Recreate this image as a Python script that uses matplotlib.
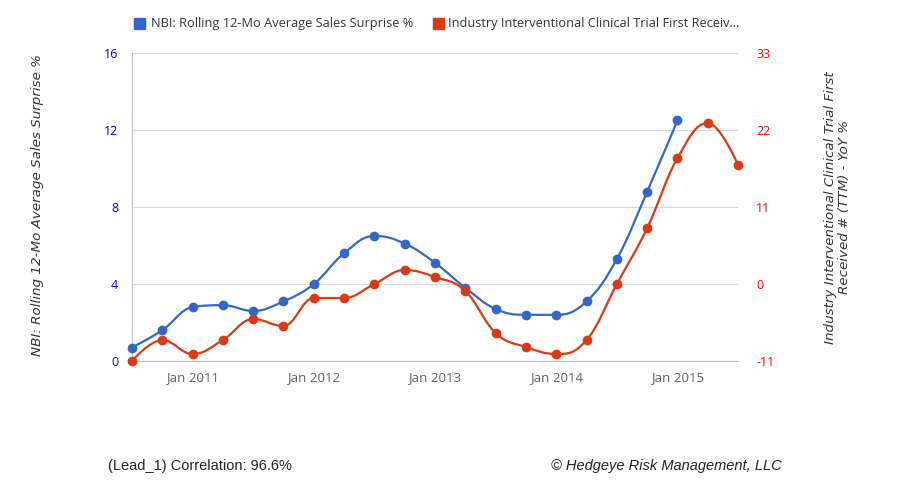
import numpy as np
import matplotlib
matplotlib.use("Agg")
import matplotlib.pyplot as plt
from matplotlib.path import Path
from matplotlib.patches import PathPatch, Rectangle

# quarterly observations, first one in Jul 2010
nbi_sales_surprise = [0.7, 1.6, 2.8, 2.9, 2.6, 3.1, 4.0, 5.6, 6.5, 6.1, 5.1, 3.8,
                      2.7, 2.4, 2.4, 3.1, 5.3, 8.8, 12.5]
clinical_trial_yoy = [-11, -8, -10, -8, -5, -6, -2, -2, 0, 2, 1, -1,
                      -7, -9, -10, -8, 0, 8, 18, 23, 17]
year_labels = ["Jan 2011", "Jan 2012", "Jan 2013", "Jan 2014", "Jan 2015"]
year_pos = [2, 6, 10, 14, 18]

BLUE = "#3366CC"
RED = "#DC3912"
plt.rcParams['font.family'] = ['Open Sans', 'DejaVu Sans']
plt.rcParams['axes.unicode_minus'] = False


def spline_path(x, y, smoothing=1.5):
    """Highcharts-like spline through the points, as a bezier Path."""
    n = len(x)
    left = [(x[i], y[i]) for i in range(n)]
    right = [(x[i], y[i]) for i in range(n)]
    d = smoothing + 1
    for i in range(1, n - 1):
        lx = (smoothing * x[i] + x[i - 1]) / d
        ly = (smoothing * y[i] + y[i - 1]) / d
        rx = (smoothing * x[i] + x[i + 1]) / d
        ry = (smoothing * y[i] + y[i + 1]) / d
        if rx != lx:
            corr = ((ry - ly) * (rx - x[i])) / (rx - lx) + y[i] - ry
            ly += corr
            ry += corr
        if ly > y[i - 1] and ly > y[i]:
            ly = max(y[i - 1], y[i]); ry = 2 * y[i] - ly
        elif ly < y[i - 1] and ly < y[i]:
            ly = min(y[i - 1], y[i]); ry = 2 * y[i] - ly
        if ry > y[i + 1] and ry > y[i]:
            ry = max(y[i + 1], y[i]); ly = 2 * y[i] - ry
        elif ry < y[i + 1] and ry < y[i]:
            ry = min(y[i + 1], y[i]); ly = 2 * y[i] - ry
        left[i] = (lx, ly)
        right[i] = (rx, ry)
    verts = [(x[0], y[0])]
    codes = [Path.MOVETO]
    for i in range(1, n):
        verts += [right[i - 1], left[i], (x[i], y[i])]
        codes += [Path.CURVE4] * 3
    return Path(verts, codes)


fig = plt.figure(figsize=(9.02, 4.82), dpi=100)
ax = fig.add_axes([0.1463, 0.251, 0.672, 0.639])
ax2 = ax.twinx()

xb = np.arange(len(nbi_sales_surprise))
xr = np.arange(len(clinical_trial_yoy))

ax.add_patch(PathPatch(spline_path(xb, nbi_sales_surprise), fill=False,
                       edgecolor=BLUE, lw=1.6, zorder=3))
ax.plot(xb, nbi_sales_surprise, "o", color=BLUE, ms=6, clip_on=False, zorder=4)
ax2.add_patch(PathPatch(spline_path(xr, clinical_trial_yoy), fill=False,
                        edgecolor=RED, lw=1.6, zorder=3))
ax2.plot(xr, clinical_trial_yoy, "o", color=RED, ms=6, clip_on=False, zorder=4)

ax.set_xlim(0, 20)
ax.set_ylim(0, 16)
ax2.set_ylim(-11, 33)
ax.set_yticks([0, 4, 8, 12, 16])
ax2.set_yticks([-11, 0, 11, 22, 33])
ax.set_xticks(year_pos)
ax.set_xticklabels(year_labels)

ax.grid(axis="y", color="#D8D8D8", lw=0.8)
ax.set_axisbelow(True)
for a in (ax, ax2):
    for s in ("top", "right"):
        a.spines[s].set_visible(False)
ax2.spines["left"].set_visible(False)
ax2.spines["bottom"].set_visible(False)
ax.spines["left"].set_color("#C0C0C0")
ax.spines["bottom"].set_color("#C0C0C0")

ax.tick_params(axis="x", length=0, pad=7, labelsize=9.5, labelcolor="#606060")
ax.tick_params(axis="y", length=0, pad=10, labelsize=9, labelcolor="#0000FF")
ax2.tick_params(axis="y", length=0, pad=13, labelsize=9, labelcolor="#FF0000")

fig.text(0.042, 0.575, "NBI: Rolling 12-Mo Average Sales Surprise %", rotation=90,
         ha="center", va="center", fontsize=9.7, style="italic", color="#333333",
         family="DejaVu Sans")
fig.text(0.928, 0.57, "Industry Interventional Clinical Trial First\nReceived # (TTM) - YoY %",
         rotation=90, ha="center", va="center", fontsize=9.7, style="italic",
         color="#333333", family="DejaVu Sans", linespacing=1.1)

# legend
fig.patches.append(Rectangle((134 / 902, 1 - 29 / 482), 11 / 902, 11 / 482,
                             transform=fig.transFigure, color=BLUE))
fig.text(151 / 902, 1 - 23.5 / 482, "NBI: Rolling 12-Mo Average Sales Surprise %",
         fontsize=9.2, color="#333333", va="center")
fig.patches.append(Rectangle((433 / 902, 1 - 29 / 482), 11 / 902, 11 / 482,
                             transform=fig.transFigure, color=RED))
fig.text(448 / 902, 1 - 23.5 / 482, "Industry Interventional Clinical Trial First Receiv...",
         fontsize=9.2, color="#333333", va="center")

fig.text(108 / 902, 1 - 466 / 482, "(Lead_1) Correlation: 96.6%",
         fontsize=10.5, family="Liberation Sans", va="center", color="#222222")
fig.text(782 / 902, 1 - 466 / 482, "\u00a9 Hedgeye Risk Management, LLC",
         fontsize=10.5, family="Liberation Sans", style="italic", ha="right",
         va="center", color="#222222")

fig.savefig("out.png", dpi=100)
